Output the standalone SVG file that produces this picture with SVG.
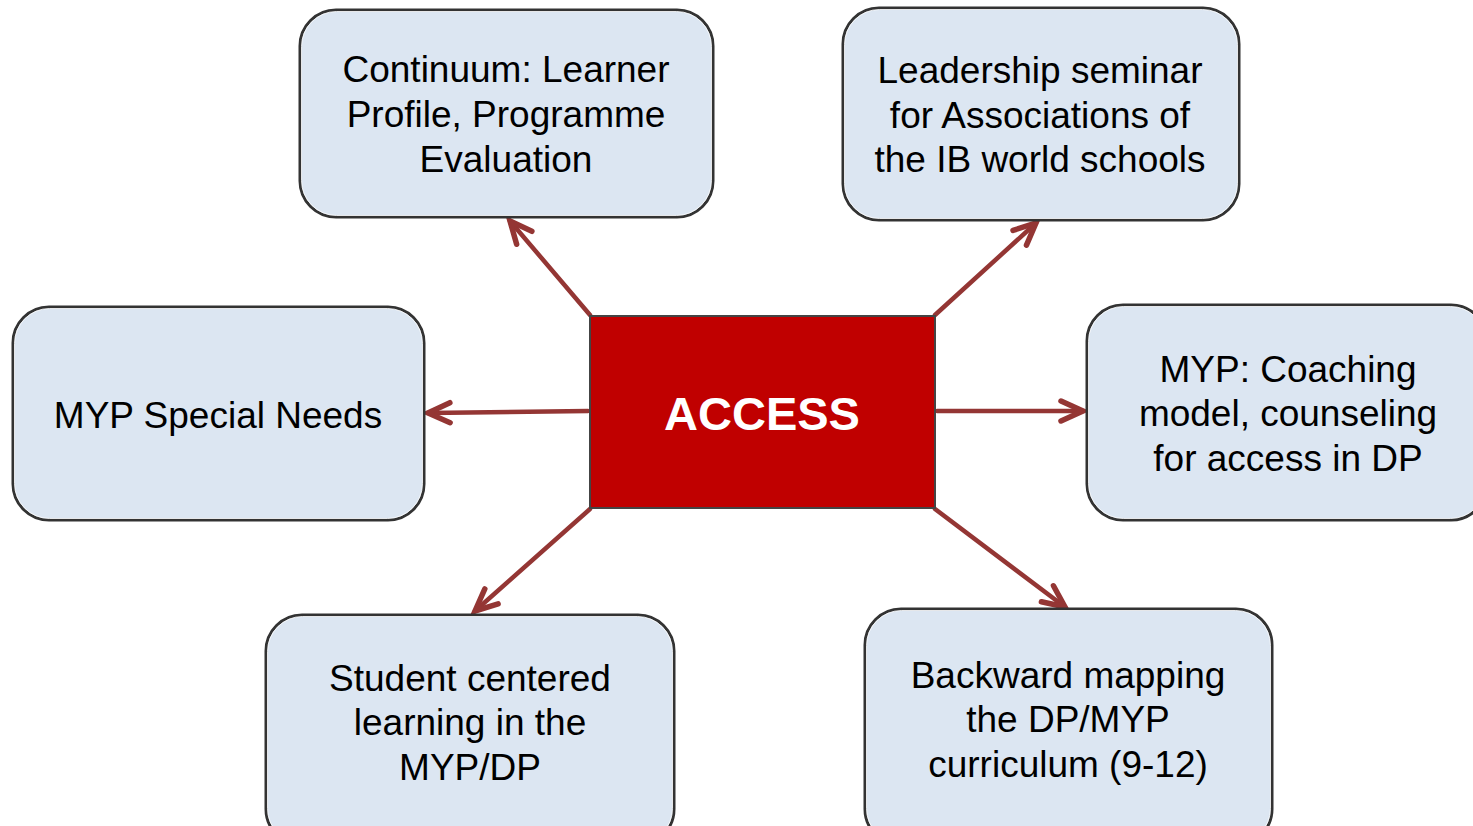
<svg xmlns="http://www.w3.org/2000/svg" width="1473" height="826" viewBox="0 0 1473 826">
<defs>
<style>
.box{fill:#dce6f2;stroke:#333333;stroke-width:3}
.inner{fill:none;stroke:#ffffff;stroke-width:0.8}
.t{font-family:"Liberation Sans",Arial,sans-serif;font-size:37px;fill:#000;text-anchor:middle}
.c{stroke:#943634;stroke-width:4.5;fill:none;stroke-linecap:round}
</style>
<marker id="ah" markerUnits="userSpaceOnUse" markerWidth="40" markerHeight="40" viewBox="-30 -20 40 40" refX="0" refY="0" orient="auto">
<path d="M-22,-10 L0,0 L-22,10" fill="none" stroke="#943634" stroke-width="5.5" stroke-linecap="round" stroke-linejoin="miter"/>
</marker>
</defs>
<rect width="1473" height="826" fill="#ffffff"/>
<g id="connectors">
<line class="c" x1="590" y1="315" x2="510" y2="221" marker-end="url(#ah)"/>
<line class="c" x1="935" y1="315" x2="1036" y2="223" marker-end="url(#ah)"/>
<line class="c" x1="588" y1="411" x2="428" y2="413" marker-end="url(#ah)"/>
<line class="c" x1="937" y1="411" x2="1083" y2="411" marker-end="url(#ah)"/>
<line class="c" x1="590" y1="509" x2="475" y2="611" marker-end="url(#ah)"/>
<line class="c" x1="935" y1="509" x2="1065" y2="607" marker-end="url(#ah)"/>
</g>
<g id="n-access">
<rect x="590" y="316" width="345" height="192" fill="#c00000" stroke="#444" stroke-width="2"/>
<text x="762" y="430" font-family="Liberation Sans,Arial,sans-serif" font-size="47" font-weight="bold" fill="#ffffff" text-anchor="middle">ACCESS</text>
</g>
<g id="n-continuum">
<rect class="box" x="300" y="10" width="413" height="207" rx="36"/>
<rect class="inner" x="301.5" y="11.5" width="410" height="204" rx="35"/>
<text class="t" x="506" y="82">Continuum: Learner</text>
<text class="t" x="506" y="127">Profile, Programme</text>
<text class="t" x="506" y="172">Evaluation</text>
</g>
<g id="n-leadership">
<rect class="box" x="843" y="8" width="396" height="212" rx="36"/>
<rect class="inner" x="844.5" y="9.5" width="393" height="209" rx="35"/>
<text class="t" x="1040" y="83">Leadership seminar</text>
<text class="t" x="1040" y="128">for Associations of</text>
<text class="t" x="1040" y="172">the IB world schools</text>
</g>
<g id="n-special">
<rect class="box" x="13" y="307" width="411" height="213" rx="36"/>
<rect class="inner" x="14.5" y="308.5" width="408" height="210" rx="35"/>
<text class="t" x="218" y="428">MYP Special Needs</text>
</g>
<g id="n-coaching">
<rect class="box" x="1087" y="305" width="400" height="215" rx="36"/>
<rect class="inner" x="1088.5" y="306.5" width="397" height="212" rx="35"/>
<text class="t" x="1288" y="382">MYP: Coaching</text>
<text class="t" x="1288" y="426">model, counseling</text>
<text class="t" x="1288" y="471">for access in DP</text>
</g>
<g id="n-student">
<rect class="box" x="266" y="615" width="408" height="230" rx="36"/>
<rect class="inner" x="267.5" y="616.5" width="405" height="227" rx="35"/>
<text class="t" x="470" y="691">Student centered</text>
<text class="t" x="470" y="735">learning in the</text>
<text class="t" x="470" y="780">MYP/DP</text>
</g>
<g id="n-backward">
<rect class="box" x="865" y="609" width="407" height="236" rx="36"/>
<rect class="inner" x="866.5" y="610.5" width="404" height="233" rx="35"/>
<text class="t" x="1068" y="688">Backward mapping</text>
<text class="t" x="1068" y="732">the DP/MYP</text>
<text class="t" x="1068" y="777">curriculum (9-12)</text>
</g>
</svg>
